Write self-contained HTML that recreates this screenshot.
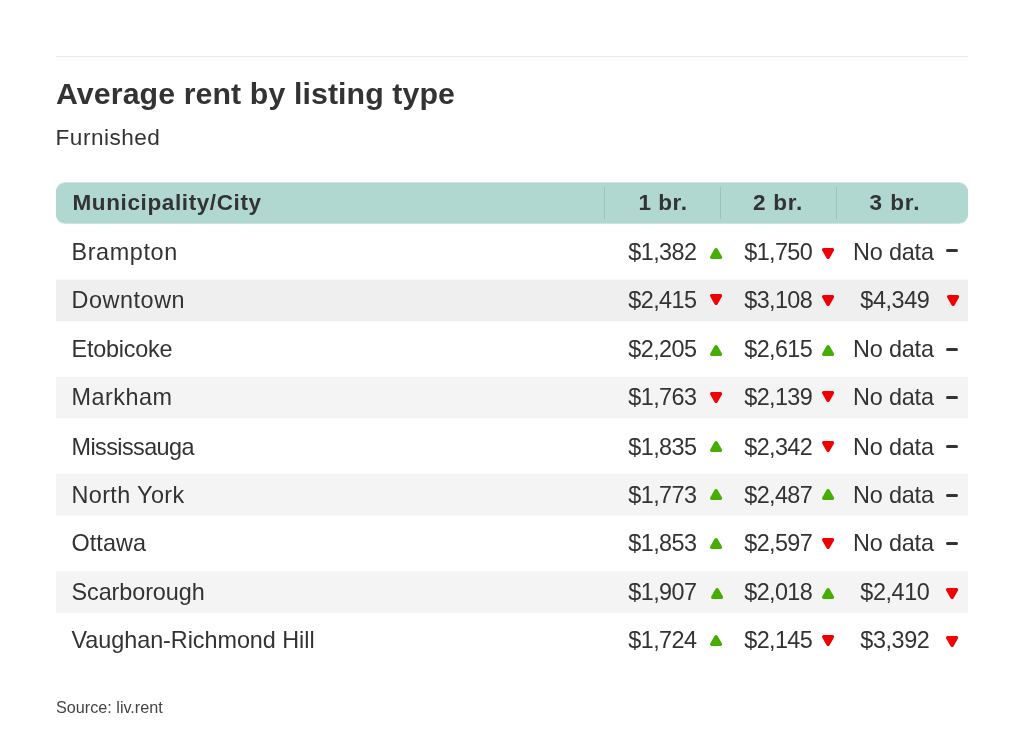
<!DOCTYPE html>
<html lang="en"><head><meta charset="utf-8"><title>Average rent by listing type</title>
<style>
html,body{margin:0;padding:0;background:#fff;}
body{width:1024px;height:741px;position:relative;overflow:hidden;font-family:"Liberation Sans",Arial,sans-serif;color:#333;}
.x{position:absolute;white-space:nowrap;}
.rule{position:absolute;left:56px;top:56px;width:912px;height:1px;background:#ebebeb;}
.hdr{position:absolute;left:56px;top:183px;width:912px;height:40px;border-radius:9px;background:#b0d8d0;box-shadow:0 -1px 0 rgba(176,216,208,.6),0 1px 0 rgba(176,216,208,.7);}
.sep{position:absolute;top:187px;width:1px;height:32px;background:#98c4bb;}
.row{position:absolute;left:56px;width:912px;}
.t{position:absolute;overflow:visible;}
.dash{position:absolute;left:946.2px;width:11.7px;height:3px;border-radius:1.5px;background:#333;}
</style></head><body>
<div class="rule"></div>
<div class="hdr"></div>
<div class="sep" style="left:603.5px"></div>
<div class="sep" style="left:719.5px"></div>
<div class="sep" style="left:835.7px"></div>
<div class="row" style="top:280px;height:41px;background:rgb(239,239,239)"></div>
<div class="row" style="top:279px;height:1px;background:rgb(239,239,239);opacity:0.3"></div>
<div class="row" style="top:321px;height:1px;background:rgb(239,239,239);opacity:0.1"></div>
<div class="row" style="top:377px;height:41px;background:rgb(244,244,244)"></div>
<div class="row" style="top:376px;height:1px;background:rgb(244,244,244);opacity:0.3"></div>
<div class="row" style="top:418px;height:1px;background:rgb(244,244,244);opacity:0.3"></div>
<div class="row" style="top:474px;height:41px;background:rgb(244,244,244)"></div>
<div class="row" style="top:473px;height:1px;background:rgb(244,244,244);opacity:0.3"></div>
<div class="row" style="top:515px;height:1px;background:rgb(244,244,244);opacity:0.5"></div>
<div class="row" style="top:572px;height:41px;background:rgb(244,244,244)"></div>
<div class="row" style="top:571px;height:1px;background:rgb(244,244,244);opacity:0.7"></div>
<div class="row" style="top:613px;height:1px;background:rgb(244,244,244);opacity:0.1"></div>
<svg class="t" style="left:709.9px;top:247.7px" width="12.2" height="11.0" viewBox="0 0 12.2 11.0"><polygon points="6.1,1.7 10.5,9.3 1.7,9.3" fill="#46ae00" stroke="#46ae00" stroke-width="3.4" stroke-linejoin="round"/></svg>
<svg class="t" style="left:821.7px;top:248.0px" width="12.2" height="11.0" viewBox="0 0 12.2 11.0"><polygon points="1.7,1.7 10.5,1.7 6.1,9.3" fill="#f00000" stroke="#f00000" stroke-width="3.4" stroke-linejoin="round"/></svg>
<div class="dash" style="top:249px"></div>
<svg class="t" style="left:709.9px;top:294.4px" width="12.2" height="11.0" viewBox="0 0 12.2 11.0"><polygon points="1.7,1.7 10.5,1.7 6.1,9.3" fill="#f00000" stroke="#f00000" stroke-width="3.4" stroke-linejoin="round"/></svg>
<svg class="t" style="left:821.7px;top:294.5px" width="12.2" height="11.0" viewBox="0 0 12.2 11.0"><polygon points="1.7,1.7 10.5,1.7 6.1,9.3" fill="#f00000" stroke="#f00000" stroke-width="3.4" stroke-linejoin="round"/></svg>
<svg class="t" style="left:946.7px;top:294.5px" width="12.2" height="11.0" viewBox="0 0 12.2 11.0"><polygon points="1.7,1.7 10.5,1.7 6.1,9.3" fill="#f00000" stroke="#f00000" stroke-width="3.4" stroke-linejoin="round"/></svg>
<svg class="t" style="left:709.9px;top:345.0px" width="12.2" height="11.0" viewBox="0 0 12.2 11.0"><polygon points="6.1,1.7 10.5,9.3 1.7,9.3" fill="#46ae00" stroke="#46ae00" stroke-width="3.4" stroke-linejoin="round"/></svg>
<svg class="t" style="left:821.7px;top:345.0px" width="12.2" height="11.0" viewBox="0 0 12.2 11.0"><polygon points="6.1,1.7 10.5,9.3 1.7,9.3" fill="#46ae00" stroke="#46ae00" stroke-width="3.4" stroke-linejoin="round"/></svg>
<div class="dash" style="top:348px"></div>
<svg class="t" style="left:709.9px;top:392.3px" width="12.2" height="11.0" viewBox="0 0 12.2 11.0"><polygon points="1.7,1.7 10.5,1.7 6.1,9.3" fill="#f00000" stroke="#f00000" stroke-width="3.4" stroke-linejoin="round"/></svg>
<svg class="t" style="left:821.7px;top:391.1px" width="12.2" height="11.0" viewBox="0 0 12.2 11.0"><polygon points="1.7,1.7 10.5,1.7 6.1,9.3" fill="#f00000" stroke="#f00000" stroke-width="3.4" stroke-linejoin="round"/></svg>
<div class="dash" style="top:396px"></div>
<svg class="t" style="left:709.9px;top:441.0px" width="12.2" height="11.0" viewBox="0 0 12.2 11.0"><polygon points="6.1,1.7 10.5,9.3 1.7,9.3" fill="#46ae00" stroke="#46ae00" stroke-width="3.4" stroke-linejoin="round"/></svg>
<svg class="t" style="left:821.7px;top:440.9px" width="12.2" height="11.0" viewBox="0 0 12.2 11.0"><polygon points="1.7,1.7 10.5,1.7 6.1,9.3" fill="#f00000" stroke="#f00000" stroke-width="3.4" stroke-linejoin="round"/></svg>
<div class="dash" style="top:445px"></div>
<svg class="t" style="left:709.9px;top:489.3px" width="12.2" height="11.0" viewBox="0 0 12.2 11.0"><polygon points="6.1,1.7 10.5,9.3 1.7,9.3" fill="#46ae00" stroke="#46ae00" stroke-width="3.4" stroke-linejoin="round"/></svg>
<svg class="t" style="left:821.7px;top:489.2px" width="12.2" height="11.0" viewBox="0 0 12.2 11.0"><polygon points="6.1,1.7 10.5,9.3 1.7,9.3" fill="#46ae00" stroke="#46ae00" stroke-width="3.4" stroke-linejoin="round"/></svg>
<div class="dash" style="top:494px"></div>
<svg class="t" style="left:709.9px;top:538.3px" width="12.2" height="11.0" viewBox="0 0 12.2 11.0"><polygon points="6.1,1.7 10.5,9.3 1.7,9.3" fill="#46ae00" stroke="#46ae00" stroke-width="3.4" stroke-linejoin="round"/></svg>
<svg class="t" style="left:821.7px;top:538.2px" width="12.2" height="11.0" viewBox="0 0 12.2 11.0"><polygon points="1.7,1.7 10.5,1.7 6.1,9.3" fill="#f00000" stroke="#f00000" stroke-width="3.4" stroke-linejoin="round"/></svg>
<div class="dash" style="top:542px"></div>
<svg class="t" style="left:711.4px;top:587.6px" width="12.2" height="11.0" viewBox="0 0 12.2 11.0"><polygon points="6.1,1.7 10.5,9.3 1.7,9.3" fill="#46ae00" stroke="#46ae00" stroke-width="3.4" stroke-linejoin="round"/></svg>
<svg class="t" style="left:821.7px;top:587.8px" width="12.2" height="11.0" viewBox="0 0 12.2 11.0"><polygon points="6.1,1.7 10.5,9.3 1.7,9.3" fill="#46ae00" stroke="#46ae00" stroke-width="3.4" stroke-linejoin="round"/></svg>
<svg class="t" style="left:945.9px;top:587.8px" width="12.2" height="11.0" viewBox="0 0 12.2 11.0"><polygon points="1.7,1.7 10.5,1.7 6.1,9.3" fill="#f00000" stroke="#f00000" stroke-width="3.4" stroke-linejoin="round"/></svg>
<svg class="t" style="left:709.9px;top:635.3px" width="12.2" height="11.0" viewBox="0 0 12.2 11.0"><polygon points="6.1,1.7 10.5,9.3 1.7,9.3" fill="#46ae00" stroke="#46ae00" stroke-width="3.4" stroke-linejoin="round"/></svg>
<svg class="t" style="left:821.7px;top:635.2px" width="12.2" height="11.0" viewBox="0 0 12.2 11.0"><polygon points="1.7,1.7 10.5,1.7 6.1,9.3" fill="#f00000" stroke="#f00000" stroke-width="3.4" stroke-linejoin="round"/></svg>
<svg class="t" style="left:945.9px;top:635.5px" width="12.2" height="11.0" viewBox="0 0 12.2 11.0"><polygon points="1.7,1.7 10.5,1.7 6.1,9.3" fill="#f00000" stroke="#f00000" stroke-width="3.4" stroke-linejoin="round"/></svg>
<div class="x" style="left:56.0px;top:79.0px;font-size:30.3px;line-height:30.3px;font-weight:700;letter-spacing:0.1px;">Average rent by listing type</div>
<div class="x" style="left:55.6px;top:126.8px;font-size:22.6px;line-height:22.6px;letter-spacing:0.475px;">Furnished</div>
<div class="x" style="left:72.5px;top:192.3px;font-size:22.5px;line-height:22.5px;font-weight:700;letter-spacing:0.613px;">Municipality/City</div>
<div class="x" style="left:638.4px;top:192.3px;font-size:22.5px;line-height:22.5px;font-weight:700;letter-spacing:0.575px;">1 br.</div>
<div class="x" style="left:753.1px;top:192.3px;font-size:22.5px;line-height:22.5px;font-weight:700;letter-spacing:0.725px;">2 br.</div>
<div class="x" style="left:869.6px;top:192.3px;font-size:22.5px;line-height:22.5px;font-weight:700;letter-spacing:0.9px;">3 br.</div>
<div class="x" style="left:56.0px;top:698.6px;font-size:16.2px;line-height:16.2px;color:#444;">Source: liv.rent</div>
<div class="x" style="left:71.5px;top:241.0px;font-size:23.4px;line-height:23.4px;letter-spacing:0.614px;">Brampton</div>
<div class="x" style="left:628.3px;top:241.0px;font-size:23.4px;line-height:23.4px;letter-spacing:-0.58px;">$1,382</div>
<div class="x" style="left:744.3px;top:241.0px;font-size:23.4px;line-height:23.4px;letter-spacing:-0.62px;">$1,750</div>
<div class="x" style="left:853.0px;top:241.0px;font-size:23.4px;line-height:23.4px;letter-spacing:-0.167px;">No data</div>
<div class="x" style="left:71.5px;top:289.0px;font-size:23.4px;line-height:23.4px;letter-spacing:0.557px;">Downtown</div>
<div class="x" style="left:628.3px;top:289.0px;font-size:23.4px;line-height:23.4px;letter-spacing:-0.58px;">$2,415</div>
<div class="x" style="left:744.3px;top:289.0px;font-size:23.4px;line-height:23.4px;letter-spacing:-0.62px;">$3,108</div>
<div class="x" style="left:860.3px;top:289.0px;font-size:23.4px;line-height:23.4px;letter-spacing:-0.42px;">$4,349</div>
<div class="x" style="left:71.5px;top:337.9px;font-size:23.4px;line-height:23.4px;letter-spacing:-0.225px;">Etobicoke</div>
<div class="x" style="left:628.3px;top:337.9px;font-size:23.4px;line-height:23.4px;letter-spacing:-0.58px;">$2,205</div>
<div class="x" style="left:744.3px;top:337.9px;font-size:23.4px;line-height:23.4px;letter-spacing:-0.62px;">$2,615</div>
<div class="x" style="left:853.0px;top:337.9px;font-size:23.4px;line-height:23.4px;letter-spacing:-0.167px;">No data</div>
<div class="x" style="left:71.5px;top:386.4px;font-size:23.4px;line-height:23.4px;letter-spacing:0.483px;">Markham</div>
<div class="x" style="left:628.3px;top:386.4px;font-size:23.4px;line-height:23.4px;letter-spacing:-0.58px;">$1,763</div>
<div class="x" style="left:744.3px;top:386.4px;font-size:23.4px;line-height:23.4px;letter-spacing:-0.62px;">$2,139</div>
<div class="x" style="left:853.0px;top:386.4px;font-size:23.4px;line-height:23.4px;letter-spacing:-0.167px;">No data</div>
<div class="x" style="left:71.5px;top:436.0px;font-size:23.4px;line-height:23.4px;letter-spacing:-0.57px;">Mississauga</div>
<div class="x" style="left:628.3px;top:436.0px;font-size:23.4px;line-height:23.4px;letter-spacing:-0.58px;">$1,835</div>
<div class="x" style="left:744.3px;top:436.0px;font-size:23.4px;line-height:23.4px;letter-spacing:-0.62px;">$2,342</div>
<div class="x" style="left:853.0px;top:436.0px;font-size:23.4px;line-height:23.4px;letter-spacing:-0.167px;">No data</div>
<div class="x" style="left:71.5px;top:483.9px;font-size:23.4px;line-height:23.4px;letter-spacing:0.389px;">North York</div>
<div class="x" style="left:628.3px;top:483.9px;font-size:23.4px;line-height:23.4px;letter-spacing:-0.58px;">$1,773</div>
<div class="x" style="left:744.3px;top:483.9px;font-size:23.4px;line-height:23.4px;letter-spacing:-0.62px;">$2,487</div>
<div class="x" style="left:853.0px;top:483.9px;font-size:23.4px;line-height:23.4px;letter-spacing:-0.167px;">No data</div>
<div class="x" style="left:71.5px;top:531.9px;font-size:23.4px;line-height:23.4px;letter-spacing:0.08px;">Ottawa</div>
<div class="x" style="left:628.3px;top:531.9px;font-size:23.4px;line-height:23.4px;letter-spacing:-0.58px;">$1,853</div>
<div class="x" style="left:744.3px;top:531.9px;font-size:23.4px;line-height:23.4px;letter-spacing:-0.62px;">$2,597</div>
<div class="x" style="left:853.0px;top:531.9px;font-size:23.4px;line-height:23.4px;letter-spacing:-0.167px;">No data</div>
<div class="x" style="left:71.5px;top:580.8px;font-size:23.4px;line-height:23.4px;letter-spacing:-0.08px;">Scarborough</div>
<div class="x" style="left:628.3px;top:580.8px;font-size:23.4px;line-height:23.4px;letter-spacing:-0.58px;">$1,907</div>
<div class="x" style="left:744.3px;top:580.8px;font-size:23.4px;line-height:23.4px;letter-spacing:-0.62px;">$2,018</div>
<div class="x" style="left:860.3px;top:580.8px;font-size:23.4px;line-height:23.4px;letter-spacing:-0.42px;">$2,410</div>
<div class="x" style="left:71.5px;top:629.3px;font-size:23.4px;line-height:23.4px;letter-spacing:-0.045px;">Vaughan-Richmond Hill</div>
<div class="x" style="left:628.3px;top:629.3px;font-size:23.4px;line-height:23.4px;letter-spacing:-0.58px;">$1,724</div>
<div class="x" style="left:744.3px;top:629.3px;font-size:23.4px;line-height:23.4px;letter-spacing:-0.62px;">$2,145</div>
<div class="x" style="left:860.3px;top:629.3px;font-size:23.4px;line-height:23.4px;letter-spacing:-0.42px;">$3,392</div>
</body></html>
